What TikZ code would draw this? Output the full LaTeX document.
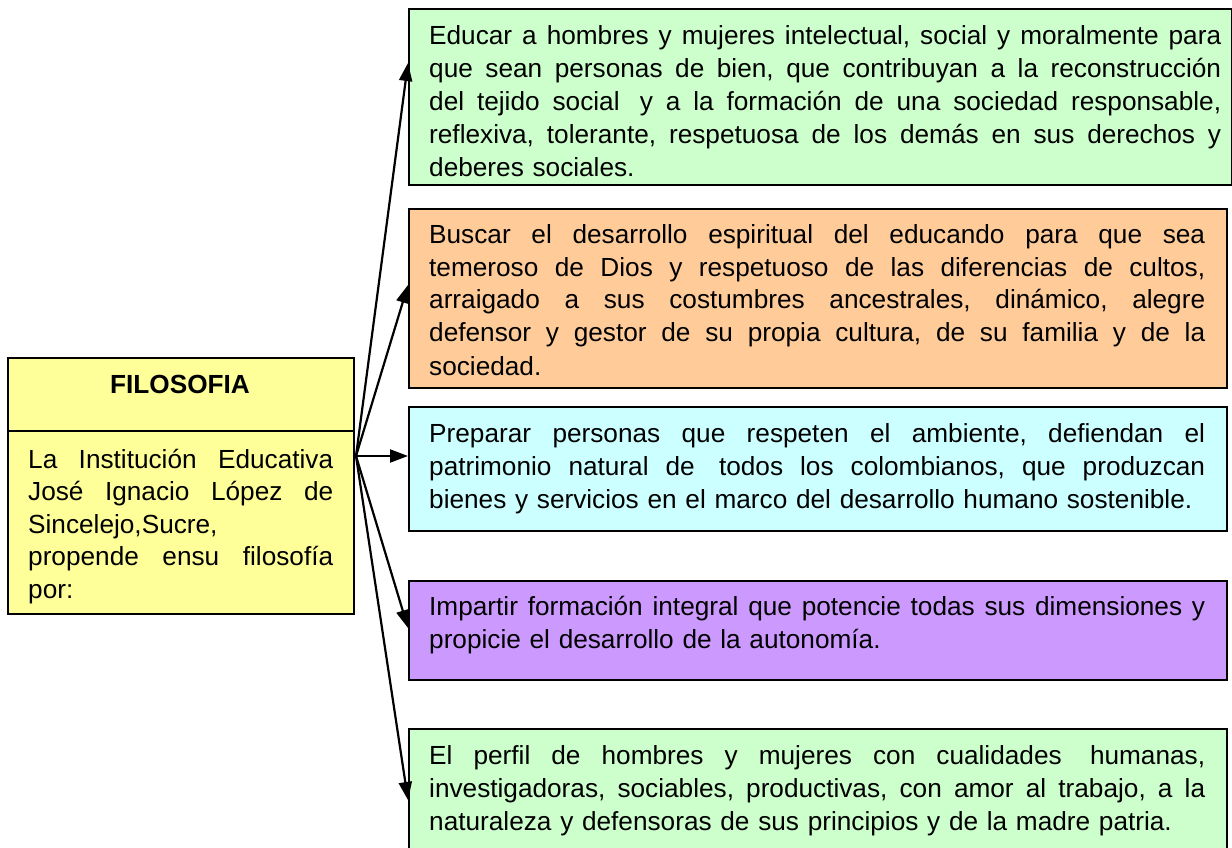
\documentclass[tikz,border=0pt]{standalone}
\usepackage{fontspec}
\setmainfont{Liberation Sans}
\usetikzlibrary{arrows.meta,calc}
\definecolor{cgreen}{HTML}{CCFFCC}
\definecolor{corange}{HTML}{FFCC99}
\definecolor{ccyan}{HTML}{CCFFFF}
\definecolor{cpurple}{HTML}{CC99FF}
\definecolor{cyellow}{HTML}{FFFF99}
\newcommand\jx[2]{\makebox[#1][s]{\frenchspacing\spaceskip=0.278em plus 3em\relax #2}}
\newcommand\jla[1]{\jx{792pt}{#1}}
\newcommand\jlb[1]{\jx{776pt}{#1}}
\newcommand\jlc[1]{\jx{305pt}{#1}}
\newcommand\xsp{\hspace{0.278em}}
\begin{document}
\begin{tikzpicture}[x=1pt,y=-1pt,
  boxstyle/.style={draw=black, line width=2pt, rectangle, inner sep=0pt, anchor=north west},
  txt/.style={anchor=base west, inner sep=0pt, align=left, text width=#1,
    font=\fontsize{26.2}{33}\selectfont},
  conn/.style={line width=2.2pt, -{Triangle[length=18pt,width=13pt]}}]
\useasboundingbox (0,0) rectangle (1232,848);
\clip (0,0) rectangle (1232,848);
% boxes
\node[boxstyle, fill=cgreen, minimum width=823pt, minimum height=176pt] (b1) at (408,8.5) {};
\node[boxstyle, fill=corange, minimum width=818pt, minimum height=179pt] (b2) at (408,208) {};
\node[boxstyle, fill=ccyan, minimum width=818pt, minimum height=124pt] (b3) at (408,406) {};
\node[boxstyle, fill=cpurple, minimum width=818pt, minimum height=99pt] (b4) at (408,580) {};
\node[boxstyle, fill=cgreen, minimum width=818pt, minimum height=150pt] (b5) at (408,728) {};
\node[boxstyle, fill=cyellow, minimum width=346pt, minimum height=256pt] (L) at (7,357) {};
\draw[line width=2pt] ($(L.north west)+(0,74)$) coordinate (dl) -- ($(L.north east)+(0,74)$) coordinate (dr);
% texts
\begin{scope}
\clip ($(b1.north west)+(1,1)$) rectangle ($(b1.south east)+(-1,-1)$);
\node[txt=800pt] (t1) at (429,45) {\jla{Educar a hombres y mujeres intelectual, social y moralmente para}\\
\jla{que sean personas de bien, que contribuyan a la reconstrucción}\\
\jla{del tejido social\xsp{} y a la formación de una sociedad responsable,}\\
\jla{reflexiva, tolerante, respetuosa de los demás en sus derechos y}\\
\mbox{deberes sociales.}};
\end{scope}
\node[txt=790pt] (t2) at (429,243) {\jlb{Buscar el desarrollo espiritual del educando para que sea}\\
\jlb{temeroso de Dios y respetuoso de las diferencias de cultos,}\\
\jlb{arraigado a sus costumbres ancestrales, dinámico, alegre}\\
\jlb{defensor y gestor de su propia cultura, de su familia y de la}\\
\mbox{sociedad.}};
\node[txt=790pt] (t3) at (429,442) {\jlb{Preparar personas que respeten el ambiente, defiendan el}\\
\jlb{patrimonio natural de\xsp{} todos los colombianos, que produzcan}\\
\mbox{bienes y servicios en el marco del desarrollo humano sostenible.}};
\node[txt=790pt] (t4) at (429,615) {\jlb{Impartir formación integral que potencie todas sus dimensiones y}\\
\mbox{propicie el desarrollo de la autonomía.}};
\node[txt=790pt] (t5) at (429,764) {\jlb{El perfil de hombres y mujeres con cualidades\xsp{} humanas,}\\
\jlb{investigadoras, sociables, productivas, con amor al trabajo, a la}\\
\mbox{naturaleza y defensoras de sus principios y de la madre patria.}};
\node[anchor=base, inner sep=0pt, font=\bfseries\fontsize{26.2}{32}\selectfont] (title) at (180,393) {FILOSOFIA};
\node[txt=315pt, font=\fontsize{26.2}{32.5}\selectfont] (lt) at (28,468) {\jlc{La Institución Educativa}\\
\jlc{José Ignacio López de}\\
\mbox{Sincelejo,Sucre,}\\
\jlc{propende ensu filosofía}\\
\mbox{por:}};
% connectors
\coordinate (src) at ($(L.north east)+(1,99)$);
\draw[conn] (src) -- ($(b1.north west)+(0,54.5)$);
\draw[conn] (src) -- ($(b2.north west)+(0,77)$);
\draw[conn] (src) -- ($(b3.north west)+(0,50)$);
\draw[conn] (src) -- ($(b4.north west)+(0,48)$);
\draw[conn] (src) -- ($(b5.north west)+(0,72)$);
\end{tikzpicture}
\end{document}
